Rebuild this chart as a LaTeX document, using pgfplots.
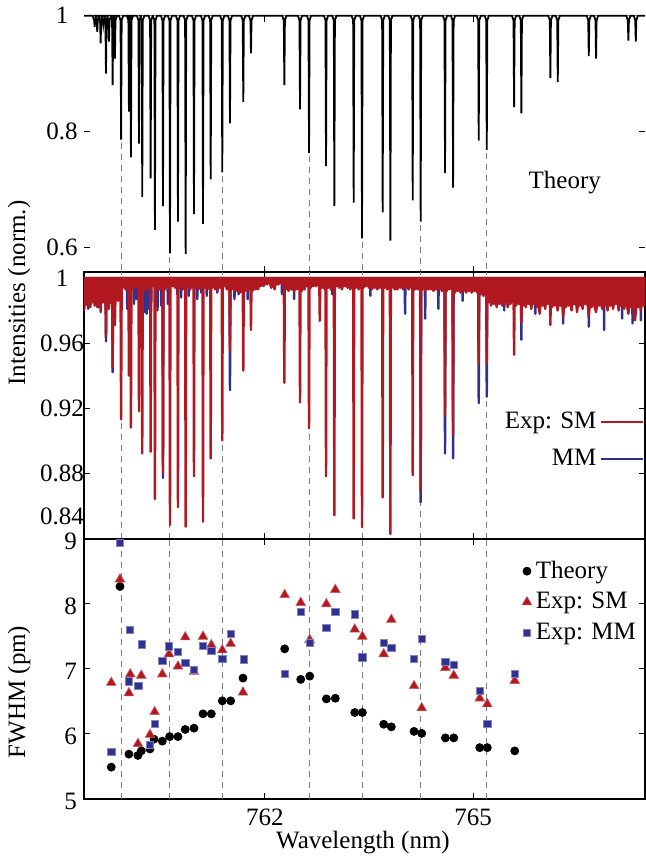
\documentclass[border=0pt]{standalone}
\usepackage{pgfplots}
\pgfplotsset{compat=1.18}
\usepackage{fontspec}
\setmainfont{Liberation Serif}
\definecolor{myred}{RGB}{178,24,32}
\definecolor{myblue}{RGB}{48,48,145}
\definecolor{dgray}{RGB}{125,125,125}
\newcommand{\fs}{\fontsize{12.5}{14}\selectfont}
\pgfplotsset{
  base/.style={scale only axis, width=280.5pt, xmin=759.39, xmax=767.48, xtick={762,765},
    tick align=inside, major tick length=3pt, tick style={black,line width=0.5pt},
    ticklabel style={font=\fs}, /pgf/number format/assume math mode=true,
    xtick pos=both, ytick pos=both, axis line style={line width=0.7pt}},
  dsh/.style={dgray, line width=0.5pt, dash pattern=on 3pt off 2.5pt, forget plot},
}
\begin{document}
\begin{tikzpicture}
% ---------------- top: theory ----------------
\begin{axis}[base, at={(42pt,294.5pt)}, anchor=south west, height=128.15pt,
  ymin=0.557, ymax=1, ytick={0.6,0.8,1}, yticklabels={0.6,0.8,1}, xticklabels={},
  axis line style={draw=none}, yticklabel style={anchor=center,xshift=-11pt}, clip=false]
\draw[gray, line width=0.6pt] (rel axis cs:0,1) -- (rel axis cs:1,1);
\addplot[dsh] coordinates {(759.925,0.780) (759.925,0.557)};
\addplot[dsh] coordinates {(760.630,0.583) (760.630,0.557)};
\addplot[dsh] coordinates {(761.384,0.723) (761.384,0.557)};
\addplot[dsh] coordinates {(762.635,0.757) (762.635,0.557)};
\addplot[dsh] coordinates {(763.399,0.609) (763.399,0.557)};
\addplot[dsh] coordinates {(764.245,0.638) (764.245,0.557)};
\addplot[dsh] coordinates {(765.198,0.762) (765.198,0.557)};
\addplot[black, line width=0.9pt] coordinates {
(759.39,1)
(759.514,1)(759.536,0.992)(759.544,0.981)(759.552,0.992)(759.574,1)
(759.551,1)(759.573,0.992)(759.581,0.972)(759.589,0.992)(759.611,1)
(759.600,1)(759.622,0.992)(759.630,0.952)(759.638,0.992)(759.660,1)
(759.638,1)(759.660,0.992)(759.668,0.984)(759.676,0.992)(759.698,1)
(759.677,1)(759.699,0.992)(759.707,0.900)(759.715,0.992)(759.737,1)
(759.720,1)(759.742,0.992)(759.750,0.955)(759.758,0.992)(759.780,1)
(759.773,1)(759.795,0.992)(759.803,0.880)(759.811,0.992)(759.833,1)
(759.806,1)(759.828,0.992)(759.836,0.926)(759.844,0.992)(759.866,1)
(759.895,1)(759.917,0.992)(759.925,0.786)(759.933,0.992)(759.955,1)
(760.008,1)(760.030,0.992)(760.038,0.834)(760.046,0.992)(760.068,1)
(760.037,1)(760.059,0.992)(760.067,0.755)(760.075,0.992)(760.097,1)
(760.153,1)(760.175,0.992)(760.183,0.779)(760.191,0.992)(760.213,1)
(760.200,1)(760.222,0.992)(760.230,0.687)(760.238,0.992)(760.260,1)
(760.321,1)(760.343,0.992)(760.351,0.719)(760.359,0.992)(760.381,1)
(760.383,1)(760.405,0.992)(760.413,0.630)(760.421,0.992)(760.443,1)
(760.499,1)(760.521,0.992)(760.529,0.671)(760.537,0.992)(760.559,1)
(760.600,1)(760.622,0.992)(760.630,0.589)(760.638,0.992)(760.660,1)
(760.715,1)(760.737,0.992)(760.745,0.644)(760.753,0.992)(760.775,1)
(760.826,1)(760.848,0.992)(760.856,0.588)(760.864,0.992)(760.886,1)
(760.946,1)(760.968,0.992)(760.976,0.657)(760.984,0.992)(761.006,1)
(761.076,1)(761.098,0.992)(761.106,0.640)(761.114,0.992)(761.136,1)
(761.187,1)(761.209,0.992)(761.217,0.717)(761.225,0.992)(761.247,1)
(761.354,1)(761.376,0.992)(761.384,0.729)(761.392,0.992)(761.414,1)
(761.465,1)(761.487,0.992)(761.495,0.814)(761.503,0.992)(761.525,1)
(761.657,1)(761.679,0.992)(761.687,0.851)(761.695,0.992)(761.717,1)
(761.768,1)(761.790,0.992)(761.798,0.935)(761.806,0.992)(761.828,1)
(762.249,1)(762.271,0.992)(762.279,0.880)(762.287,0.992)(762.309,1)
(762.475,1)(762.497,0.992)(762.505,0.838)(762.513,0.992)(762.535,1)
(762.605,1)(762.627,0.992)(762.635,0.763)(762.643,0.992)(762.665,1)
(762.850,1)(762.872,0.992)(762.880,0.740)(762.888,0.992)(762.910,1)
(762.970,1)(762.992,0.992)(763.000,0.671)(763.008,0.992)(763.030,1)
(763.249,1)(763.271,0.992)(763.279,0.677)(763.287,0.992)(763.309,1)
(763.369,1)(763.391,0.992)(763.399,0.615)(763.407,0.992)(763.429,1)
(763.667,1)(763.689,0.992)(763.697,0.660)(763.705,0.992)(763.727,1)
(763.778,1)(763.800,0.992)(763.808,0.611)(763.816,0.992)(763.838,1)
(764.100,1)(764.122,0.992)(764.130,0.681)(764.138,0.992)(764.160,1)
(764.215,1)(764.237,0.992)(764.245,0.644)(764.253,0.992)(764.275,1)
(764.566,1)(764.588,0.992)(764.596,0.728)(764.604,0.992)(764.626,1)
(764.682,1)(764.704,0.992)(764.712,0.703)(764.720,0.992)(764.742,1)
(765.052,1)(765.074,0.992)(765.082,0.784)(765.090,0.992)(765.112,1)
(765.168,1)(765.190,0.992)(765.198,0.768)(765.206,0.992)(765.228,1)
(765.562,1)(765.584,0.992)(765.592,0.842)(765.600,0.992)(765.622,1)
(765.667,1)(765.689,0.992)(765.697,0.831)(765.705,0.992)(765.727,1)
(766.085,1)(766.107,0.992)(766.115,0.892)(766.123,0.992)(766.145,1)
(766.192,1)(766.214,0.992)(766.222,0.885)(766.230,0.992)(766.252,1)
(766.639,1)(766.661,0.992)(766.669,0.930)(766.677,0.992)(766.699,1)
(766.744,1)(766.766,0.992)(766.774,0.926)(766.782,0.992)(766.804,1)
(767.210,1)(767.232,0.992)(767.240,0.957)(767.248,0.992)(767.270,1)
(767.317,1)(767.339,0.992)(767.347,0.955)(767.355,0.992)(767.377,1)
(767.48,1)};
\node[font=\fs] at (rel axis cs:0.857,0.351) {Theory};
\end{axis}
% ---------------- middle: experiment ----------------
\begin{axis}[base, at={(42pt,161pt)}, anchor=south west, height=133.5pt,
  ymin=0.8394, ymax=1.0037, ytick={0.84,0.88,0.92,0.96,1}, yticklabels={,0.88,0.92,0.96,1},
  xticklabels={}, yticklabel style={anchor=center,xshift=-11pt},
  legend style={draw=none, fill=none, at={(0.999,0.369)}, anchor=east, font=\fs, row sep=5pt, inner sep=0pt},
  legend plot pos=right, legend cell align=right]
\addplot[dsh] coordinates {(759.925,0.8394) (759.925,1.0037)};
\addplot[dsh] coordinates {(760.630,0.8394) (760.630,1.0037)};
\addplot[dsh] coordinates {(761.384,0.8394) (761.384,1.0037)};
\addplot[dsh] coordinates {(762.635,0.8394) (762.635,1.0037)};
\addplot[dsh] coordinates {(763.399,0.8394) (763.399,1.0037)};
\addplot[dsh] coordinates {(764.245,0.8394) (764.245,1.0037)};
\addplot[dsh] coordinates {(765.198,0.8394) (765.198,1.0037)};
% MM (blue)
\addplot[fill=myblue, draw=myblue, line width=1.2pt, line join=round, forget plot] coordinates {
(759.39,1)(759.39,0.999)
(759.444,0.999)(759.45,0.981)(759.456,0.999)
(759.594,0.999)(759.60,0.982)(759.606,0.999)
(759.699,0.999)(759.707,0.961)(759.715,0.999)
(759.795,0.999)(759.803,0.942)(759.811,0.999)
(760.008,0.999)(760.014,0.981)(760.020,0.999)
(760.105,0.999)(760.111,0.984)(760.117,0.999)
(760.144,0.999)(760.150,0.987)(760.156,0.999)
(760.264,0.999)(760.270,0.979)(760.276,0.999)
(760.288,0.999)(760.294,0.978)(760.300,0.999)
(760.321,0.999)(760.327,0.981)(760.333,0.999)
(760.354,0.999)(760.360,0.985)(760.366,0.999)
(760.444,0.999)(760.450,0.980)(760.456,0.999)
(760.498,0.999)(760.504,0.983)(760.510,0.999)
(760.521,0.999)(760.529,0.877)(760.537,0.999)
(760.594,0.999)(760.600,0.984)(760.606,0.999)
(760.729,0.999)(760.735,0.990)(760.741,0.999)
(760.784,0.999)(760.790,0.988)(760.796,0.999)
(760.894,0.999)(760.900,0.989)(760.906,0.999)
(761.017,0.999)(761.023,0.987)(761.029,0.999)
(761.075,0.999)(761.081,0.991)(761.087,0.999)
(761.154,0.999)(761.160,0.989)(761.166,0.999)
(761.306,0.999)(761.312,0.991)(761.318,0.999)
(761.487,0.999)(761.495,0.931)(761.503,0.999)
(761.554,0.999)(761.560,0.987)(761.566,0.999)
(761.614,0.999)(761.620,0.990)(761.626,0.999)
(761.744,0.999)(761.750,0.987)(761.756,0.999)
(762.239,0.999)(762.245,0.990)(762.251,0.999)
(762.414,0.999)(762.420,0.987)(762.426,0.999)
(762.964,0.999)(762.970,0.990)(762.976,0.999)
(763.514,0.999)(763.520,0.989)(763.526,0.999)
(764.014,0.999)(764.020,0.978)(764.026,0.999)
(764.237,0.999)(764.245,0.862)(764.253,0.999)
(764.304,0.999)(764.310,0.975)(764.316,0.999)
(764.494,0.999)(764.500,0.981)(764.506,0.999)
(764.588,0.999)(764.596,0.892)(764.604,0.999)
(764.704,0.999)(764.712,0.889)(764.720,0.999)
(764.844,0.999)(764.850,0.986)(764.856,0.999)
(765.074,0.999)(765.082,0.923)(765.090,0.999)
(765.190,0.999)(765.198,0.927)(765.206,0.999)
(765.444,0.999)(765.450,0.980)(765.456,0.999)
(765.689,0.999)(765.697,0.962)(765.705,0.999)
(765.894,0.999)(765.900,0.978)(765.906,0.999)
(766.294,0.999)(766.300,0.972)(766.306,0.999)
(766.663,0.999)(766.669,0.970)(766.675,0.999)
(766.884,0.999)(766.890,0.968)(766.896,0.999)
(767.144,0.999)(767.150,0.975)(767.156,0.999)
(767.294,0.999)(767.300,0.972)(767.306,0.999)
(767.414,0.999)(767.420,0.974)(767.426,0.999)
(767.48,0.999)(767.48,1)} -- cycle;
% SM (red)
\addplot[fill=myred, draw=myred, line width=1.2pt, line join=round, forget plot] coordinates {
(759.39,1)(759.39,0.980)(759.40,0.984)(759.42,0.991)(759.44,0.983)(759.46,0.989)(759.48,0.982)(759.50,0.990)(759.52,0.985)
(759.536,0.988)(759.544,0.983)(759.552,0.988)(759.565,0.986)
(759.574,0.988)(759.581,0.982)(759.588,0.987)(759.60,0.984)(759.615,0.988)
(759.622,0.986)(759.630,0.979)(759.638,0.986)(759.65,0.990)
(759.661,0.989)(759.668,0.985)(759.675,0.989)(759.69,0.986)
(759.700,0.988)(759.707,0.964)(759.714,0.988)(759.73,0.984)
(759.743,0.988)(759.750,0.981)(759.757,0.988)(759.775,0.985)(759.79,0.989)
(759.796,0.988)(759.803,0.945)(759.810,0.988)(759.82,0.986)
(759.829,0.987)(759.836,0.971)(759.843,0.987)(759.86,0.989)(759.88,0.986)(759.90,0.994)
(759.917,0.996)(759.925,0.913)(759.933,0.996)
(759.95,0.994)(759.97,0.997)(759.99,0.993)(760.01,0.996)(760.025,0.995)
(760.031,0.996)(760.038,0.940)(760.045,0.996)(760.055,0.995)
(760.060,0.996)(760.067,0.908)(760.074,0.996)
(760.09,0.993)(760.11,0.997)(760.13,0.994)(760.15,0.996)(760.165,0.995)
(760.176,0.996)(760.183,0.918)(760.190,0.996)(760.205,0.994)
(760.223,0.996)(760.230,0.892)(760.237,0.996)
(760.26,0.992)(760.28,0.996)(760.30,0.993)(760.32,0.997)(760.335,0.994)
(760.344,0.996)(760.351,0.893)(760.358,0.996)(760.375,0.995)(760.395,0.997)
(760.406,0.996)(760.413,0.864)(760.420,0.996)
(760.44,0.993)(760.46,0.997)(760.48,0.993)(760.50,0.996)(760.515,0.994)
(760.522,0.996)(760.529,0.880)(760.536,0.996)
(760.555,0.993)(760.575,0.997)(760.595,0.994)(760.615,0.997)
(760.623,0.997)(760.630,0.848)(760.637,0.997)
(760.66,0.995)(760.68,0.998)(760.70,0.994)(760.72,0.996)
(760.738,0.996)(760.745,0.859)(760.752,0.996)
(760.77,0.994)(760.79,0.997)(760.81,0.993)(760.83,0.996)
(760.849,0.996)(760.856,0.847)(760.863,0.996)
(760.88,0.995)(760.90,0.997)(760.92,0.993)(760.94,0.996)(760.96,0.994)
(760.969,0.996)(760.976,0.878)(760.983,0.996)
(761.00,0.994)(761.02,0.997)(761.04,0.993)(761.06,0.996)(761.08,0.994)
(761.099,0.996)(761.106,0.850)(761.113,0.996)
(761.13,0.994)(761.15,0.997)(761.17,0.993)(761.19,0.996)
(761.210,0.996)(761.217,0.889)(761.224,0.996)
(761.24,0.994)(761.26,0.997)(761.28,0.993)(761.30,0.996)(761.32,0.993)(761.34,0.996)(761.36,0.994)
(761.377,0.996)(761.384,0.900)(761.391,0.996)
(761.41,0.995)(761.43,0.997)(761.45,0.993)(761.47,0.996)
(761.488,0.995)(761.495,0.955)(761.502,0.995)
(761.52,0.993)(761.54,0.996)(761.56,0.992)(761.58,0.995)(761.60,0.992)(761.62,0.996)(761.64,0.991)(761.66,0.995)
(761.680,0.994)(761.687,0.943)(761.694,0.994)
(761.71,0.992)(761.73,0.995)(761.75,0.992)(761.77,0.996)
(761.791,0.995)(761.798,0.968)(761.805,0.995)
(761.82,0.992)(761.84,0.996)(761.86,0.993)(761.88,0.996)(761.90,0.993)(761.92,0.997)(761.94,0.995)(761.96,0.998)(761.98,0.995)
(762.00,0.998)(762.03,0.996)(762.06,0.999)(762.09,0.994)(762.11,0.998)(762.14,0.993)(762.16,0.998)(762.19,0.996)(762.22,0.998)(762.25,0.996)
(762.272,0.996)(762.279,0.9355)(762.286,0.996)
(762.30,0.993)(762.32,0.996)(762.34,0.992)(762.36,0.996)(762.38,0.993)(762.40,0.996)(762.42,0.992)(762.44,0.996)(762.46,0.993)(762.48,0.996)
(762.498,0.995)(762.505,0.9235)(762.512,0.995)
(762.53,0.992)(762.55,0.996)(762.57,0.993)(762.59,0.997)(762.61,0.995)
(762.628,0.996)(762.635,0.9076)(762.642,0.996)
(762.66,0.994)(762.68,0.997)(762.70,0.995)(762.72,0.998)(762.74,0.995)(762.76,0.997)
(762.783,0.996)(762.790,0.9736)(762.797,0.996)
(762.82,0.994)(762.84,0.997)(762.86,0.993)
(762.873,0.996)(762.880,0.878)(762.887,0.996)
(762.91,0.994)(762.93,0.997)(762.95,0.993)(762.97,0.996)
(762.993,0.996)(763.000,0.854)(763.007,0.996)
(763.03,0.995)(763.05,0.998)(763.07,0.994)(763.09,0.997)(763.11,0.993)(763.13,0.997)(763.15,0.995)(763.17,0.998)(763.19,0.994)(763.21,0.997)(763.23,0.993)(763.25,0.996)
(763.272,0.996)(763.279,0.852)(763.286,0.996)
(763.31,0.994)(763.33,0.997)(763.35,0.993)(763.37,0.996)
(763.392,0.996)(763.399,0.8466)(763.406,0.996)
(763.42,0.994)(763.44,0.997)(763.46,0.995)(763.48,0.998)(763.50,0.994)(763.52,0.997)(763.54,0.993)(763.56,0.996)(763.58,0.994)(763.60,0.997)(763.62,0.993)(763.64,0.996)(763.66,0.994)
(763.690,0.996)(763.697,0.865)(763.704,0.996)
(763.72,0.994)(763.74,0.997)(763.76,0.993)(763.78,0.996)
(763.801,0.996)(763.808,0.8425)(763.815,0.996)
(763.83,0.994)(763.85,0.997)(763.87,0.993)(763.89,0.996)(763.91,0.993)(763.93,0.997)(763.95,0.994)(763.97,0.996)(763.99,0.993)(764.01,0.996)(764.03,0.994)(764.05,0.997)(764.07,0.993)(764.09,0.996)(764.11,0.994)
(764.123,0.996)(764.130,0.8786)(764.137,0.996)
(764.16,0.993)(764.18,0.996)(764.20,0.993)(764.22,0.996)
(764.238,0.995)(764.245,0.869)(764.252,0.995)
(764.27,0.993)(764.29,0.996)(764.31,0.992)(764.33,0.996)(764.35,0.993)(764.37,0.996)(764.39,0.993)(764.41,0.996)(764.43,0.992)(764.45,0.996)(764.47,0.993)(764.49,0.996)(764.51,0.993)(764.53,0.996)(764.55,0.992)(764.57,0.995)
(764.589,0.995)(764.596,0.9157)(764.603,0.995)
(764.62,0.992)(764.64,0.996)(764.66,0.993)(764.68,0.996)(764.70,0.993)
(764.705,0.994)(764.712,0.9033)(764.719,0.994)
(764.74,0.991)(764.76,0.995)(764.78,0.992)(764.80,0.996)(764.82,0.991)(764.84,0.995)(764.86,0.992)(764.88,0.996)(764.90,0.991)(764.92,0.995)(764.94,0.992)(764.96,0.996)(764.98,0.991)(765.00,0.995)(765.02,0.992)(765.04,0.995)(765.06,0.991)
(765.075,0.994)(765.082,0.9476)(765.089,0.994)
(765.11,0.990)(765.13,0.994)(765.15,0.989)(765.17,0.994)(765.185,0.990)
(765.191,0.993)(765.198,0.9476)(765.205,0.993)
(765.22,0.985)(765.24,0.990)(765.26,0.983)(765.28,0.989)(765.30,0.984)(765.32,0.990)(765.34,0.982)(765.36,0.989)(765.38,0.984)(765.40,0.990)(765.42,0.983)(765.44,0.988)(765.46,0.985)(765.48,0.990)(765.50,0.982)(765.52,0.988)(765.54,0.984)(765.56,0.989)(765.575,0.985)
(765.585,0.987)(765.592,0.9528)(765.599,0.987)
(765.62,0.983)(765.64,0.989)(765.66,0.984)(765.68,0.988)
(765.690,0.987)(765.697,0.9724)(765.704,0.987)
(765.72,0.983)(765.74,0.989)(765.76,0.982)(765.78,0.988)(765.80,0.984)(765.82,0.989)(765.84,0.981)(765.86,0.988)(765.88,0.984)(765.90,0.989)(765.92,0.982)(765.94,0.988)(765.96,0.978)(765.98,0.987)(766.00,0.983)(766.02,0.989)(766.04,0.981)(766.06,0.988)(766.08,0.984)(766.10,0.988)
(766.108,0.986)(766.115,0.971)(766.122,0.986)
(766.14,0.982)(766.16,0.988)(766.18,0.983)(766.20,0.989)(766.22,0.980)(766.24,0.987)(766.26,0.983)(766.28,0.988)(766.30,0.976)(766.32,0.987)(766.34,0.982)(766.36,0.988)(766.38,0.983)(766.40,0.989)(766.42,0.980)(766.44,0.987)(766.46,0.984)(766.48,0.988)(766.50,0.979)(766.52,0.987)(766.54,0.983)(766.56,0.988)(766.58,0.981)(766.60,0.987)(766.62,0.984)(766.64,0.988)
(766.669,0.977)(766.69,0.986)(766.71,0.982)(766.73,0.988)(766.75,0.983)(766.774,0.979)(766.80,0.987)(766.82,0.983)(766.84,0.988)(766.86,0.981)(766.88,0.987)(766.90,0.983)(766.92,0.988)(766.94,0.980)(766.96,0.987)(766.98,0.983)(767.00,0.988)(767.02,0.981)(767.04,0.987)(767.06,0.984)(767.08,0.988)(767.10,0.980)(767.12,0.986)(767.14,0.983)(767.16,0.988)(767.18,0.981)(767.20,0.987)(767.22,0.983)(767.24,0.978)(767.26,0.986)(767.28,0.982)(767.30,0.987)(767.337,0.974)(767.36,0.986)(767.38,0.982)(767.40,0.987)(767.42,0.980)(767.44,0.986)(767.46,0.983)(767.48,0.987)
(767.48,1)} -- cycle;
\addlegendimage{legend image code/.code={\draw[myred, line width=0.8pt] (0pt,0pt) -- (21pt,0pt);}}
\addlegendentry{Exp: SM}
\addlegendimage{legend image code/.code={\draw[myblue, line width=0.8pt] (0pt,0pt) -- (21pt,0pt);}}
\addlegendentry{MM}
\end{axis}
\node[font=\fs] at (31pt,172.5pt) {0.84};
% ---------------- bottom: FWHM ----------------
\begin{axis}[base, at={(42pt,31pt)}, anchor=south west, height=130pt,
  ymin=5, ymax=9, ytick={5,6,7,8,9}, xticklabels={762,765}, xticklabel style={yshift=-1.5pt},
  yticklabel style={yshift=-1pt},
  legend style={draw=none, fill=none, at={(0.995,0.94)}, anchor=north east, font=\fs, row sep=1.5pt, inner sep=1pt},
  legend cell align=left]
\addplot[dsh] coordinates {(759.925,5) (759.925,9)};
\addplot[dsh] coordinates {(760.630,5) (760.630,9)};
\addplot[dsh] coordinates {(761.384,5) (761.384,9)};
\addplot[dsh] coordinates {(762.635,5) (762.635,9)};
\addplot[dsh] coordinates {(763.399,5) (763.399,9)};
\addplot[dsh] coordinates {(764.245,5) (764.245,9)};
\addplot[dsh] coordinates {(765.198,5) (765.198,9)};
\addplot[only marks, mark=*, mark size=2pt, black] coordinates {
(759.783,5.49) (759.909,8.27) (760.038,5.69) (760.168,5.67) (760.216,5.74) (760.341,5.77) (760.399,5.92) (760.519,5.89) (760.625,5.96) (760.745,5.96) (760.850,6.07) (760.976,6.09) (761.106,6.31) (761.226,6.31) (761.384,6.51) (761.505,6.51) (761.683,6.86) (762.284,7.31) (762.515,6.84) (762.645,6.89) (762.885,6.54) (763.014,6.55) (763.294,6.33) (763.404,6.33) (763.712,6.15) (763.822,6.11) (764.149,6.04) (764.260,6.01) (764.601,5.94) (764.722,5.94) (765.097,5.79) (765.206,5.79) (765.601,5.74)};
\addlegendentry{Theory}
\addplot[only marks, mark=triangle*, mark size=2.8pt, mark options={fill=myred, draw=myred!70!white, line width=0.3pt}] coordinates {
(759.783,6.79) (759.909,8.38) (760.038,6.63) (760.057,6.92) (760.168,5.85) (760.216,6.90) (760.341,5.99) (760.409,6.34) (760.519,6.92) (760.616,7.23) (760.745,7.04) (760.850,7.49) (760.976,6.96) (761.106,7.50) (761.226,7.37) (761.384,7.29) (761.505,7.39) (761.683,6.64) (762.284,8.14) (762.515,8.02) (762.645,7.45) (762.885,8.00) (763.014,8.22) (763.294,7.61) (763.404,7.50) (763.712,7.23) (763.822,7.76) (764.149,6.74) (764.260,6.40) (764.601,7.02) (764.722,6.90) (765.097,6.55) (765.206,6.46) (765.601,6.82)};
\addlegendentry{Exp: SM}
\addplot[only marks, mark=square*, mark size=1.8pt, mark options={fill=myblue, draw=myblue!60!white, line width=0.3pt}] coordinates {
(759.783,5.72) (759.909,8.94) (760.038,6.81) (760.053,7.60) (760.173,6.74) (760.221,7.38) (760.337,5.83) (760.409,6.16) (760.519,7.12) (760.616,7.35) (760.745,7.27) (760.850,7.10) (760.976,6.99) (761.106,7.36) (761.226,7.28) (761.384,7.16) (761.505,7.54) (761.693,7.15) (762.284,6.92) (762.515,7.88) (762.645,7.40) (762.885,7.63) (763.014,7.88) (763.294,7.84) (763.404,7.18) (763.712,7.40) (763.822,7.32) (764.149,7.16) (764.260,7.46) (764.601,7.11) (764.722,7.07) (765.097,6.67) (765.206,6.16) (765.601,6.93)};
\addlegendentry{Exp: MM}
\end{axis}
% ---------------- labels ----------------
\node[font=\fs, rotate=90] at (9.5pt,284pt) {Intensities (norm.)};
\node[font=\fs, rotate=90] at (9.5pt,84.5pt) {FWHM (pm)};
\node[font=\fs] at (181.5pt,9pt) {Wavelength (nm)};
\pgfresetboundingbox
\path[use as bounding box] (0pt,0pt) rectangle (323pt,430.5pt);
\end{tikzpicture}
\end{document}
